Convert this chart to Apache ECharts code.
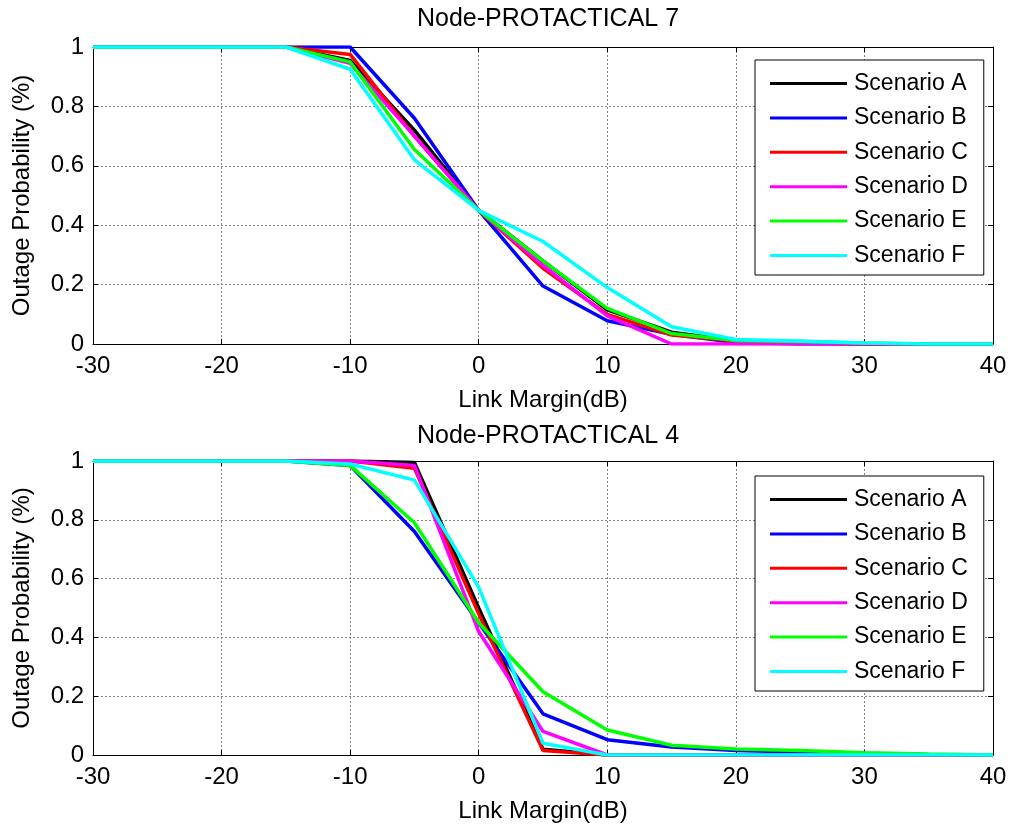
<!DOCTYPE html>
<html>
<head>
<meta charset="utf-8">
<script src="https://cdn.jsdelivr.net/npm/echarts@6/dist/echarts.min.js"></script>
<style>
  html, body { margin: 0; padding: 0; background: #fff; }
  #chart { width: 1010px; height: 825px; }
</style>
</head>
<body>
<div id="chart"></div>
<script>
// Link margin sample points (dB)
const linkMargin = [-30, -25, -20, -15, -10, -5, 0, 5, 10, 15, 20, 25, 30, 35, 40];
const scenarioNames = ['Scenario A', 'Scenario B', 'Scenario C', 'Scenario D', 'Scenario E', 'Scenario F'];
const scenarioColors = ['#000000', '#0000ff', '#ff0000', '#ff00ff', '#00ff00', '#00ffff'];
const xTicks = [-30, -20, -10, 0, 10, 20, 30, 40];
const yTicks = [0, 0.2, 0.4, 0.6, 0.8, 1];

// Node-PROTACTICAL 7 outage probability per scenario
const node7A = [1, 1, 1, 1, 0.955, 0.72, 0.45, 0.28, 0.115, 0.04, 0.01, 0.005, 0, 0, 0];
const node7B = [1, 1, 1, 1, 1, 0.76, 0.45, 0.195, 0.078, 0.033, 0.005, 0, 0, 0, 0];
const node7C = [1, 1, 1, 1, 0.975, 0.70, 0.45, 0.255, 0.10, 0.03, 0.01, 0.005, 0, 0, 0];
const node7D = [1, 1, 1, 1, 0.945, 0.70, 0.45, 0.265, 0.095, 0, 0, 0, 0, 0, 0];
const node7E = [1, 1, 1, 1, 0.95, 0.655, 0.45, 0.28, 0.12, 0.035, 0.012, 0.008, 0.003, 0, 0];
const node7F = [1, 1, 1, 1, 0.925, 0.62, 0.45, 0.345, 0.19, 0.058, 0.015, 0.01, 0.003, 0, 0];

// Node-PROTACTICAL 4 outage probability per scenario
const node4A = [1, 1, 1, 1, 1, 0.995, 0.50, 0.02, 0, 0, 0, 0, 0, 0, 0];
const node4B = [1, 1, 1, 1, 0.985, 0.76, 0.45, 0.14, 0.052, 0.027, 0.015, 0.01, 0.005, 0, 0];
const node4C = [1, 1, 1, 1, 1, 0.975, 0.48, 0.015, 0, 0, 0, 0, 0, 0, 0];
const node4D = [1, 1, 1, 1, 1, 0.985, 0.42, 0.08, 0, 0, 0, 0, 0, 0, 0];
const node4E = [1, 1, 1, 1, 0.985, 0.79, 0.45, 0.215, 0.085, 0.033, 0.02, 0.015, 0.008, 0.003, 0];
const node4F = [1, 1, 1, 1, 0.99, 0.935, 0.57, 0.04, 0, 0, 0, 0, 0, 0, 0];

const node7 = [node7A, node7B, node7C, node7D, node7E, node7F];
const node4 = [node4A, node4B, node4C, node4D, node4E, node4F];

const FONT = '"Liberation Sans", Arial, sans-serif';
const TICK_SIZE = 24;
const LEGEND_SIZE = 23;
const TITLE_SIZE = 25;

const grids = [
  { left: 93, top: 47, width: 900, height: 297 },
  { left: 93, top: 461, width: 900, height: 294 }
];

function mainX(gi) {
  return {
    type: 'value', gridIndex: gi, min: -30, max: 40, interval: 10,
    name: 'Link Margin(dB)', nameLocation: 'middle', nameGap: 44,
    nameTextStyle: { color: '#000', fontFamily: FONT, fontSize: TICK_SIZE },
    axisLine: { onZero: false, lineStyle: { color: '#000', width: 1 } },
    axisTick: { inside: true, length: 5, lineStyle: { color: '#000' } },
    axisLabel: { color: '#000', fontFamily: FONT, fontSize: TICK_SIZE, margin: 10,
      formatter: v => xTicks.includes(v) ? String(v) : '' },
    splitLine: { show: true, lineStyle: { color: '#808080', type: [2, 2], width: 1 } }
  };
}
function boxX(gi) {
  return {
    type: 'value', gridIndex: gi, min: -30, max: 40, interval: 10, position: 'top',
    axisLine: { onZero: false, lineStyle: { color: '#000', width: 1 } },
    axisTick: { inside: true, length: 5, lineStyle: { color: '#000' } },
    axisLabel: { show: false }, splitLine: { show: false }
  };
}
function mainY(gi) {
  return {
    type: 'value', gridIndex: gi, min: 0, max: 1, interval: 0.2,
    name: 'Outage Probability (%)', nameLocation: 'middle', nameGap: 59,
    nameTextStyle: { color: '#000', fontFamily: FONT, fontSize: TICK_SIZE },
    axisLine: { show: true, onZero: false, lineStyle: { color: '#000', width: 1 } },
    axisTick: { show: true, inside: true, length: 5, lineStyle: { color: '#000' } },
    axisLabel: { color: '#000', fontFamily: FONT, fontSize: TICK_SIZE, margin: 9,
      formatter: v => { const t = yTicks.find(y => Math.abs(y - v) < 1e-9); return t === undefined ? '' : String(t); } },
    splitLine: { show: true, lineStyle: { color: '#808080', type: [2, 2], width: 1 } }
  };
}
function boxY(gi) {
  return {
    type: 'value', gridIndex: gi, min: 0, max: 1, interval: 0.2, position: 'right',
    axisLine: { show: true, onZero: false, lineStyle: { color: '#000', width: 1 } },
    axisTick: { show: true, inside: true, length: 5, lineStyle: { color: '#000' } },
    axisLabel: { show: false }, splitLine: { show: false }
  };
}

const series = [];
[node7, node4].forEach((set, gi) => {
  set.forEach((vals, si) => {
    series.push({
      type: 'line', name: scenarioNames[si],
      xAxisIndex: gi * 2, yAxisIndex: gi * 2,
      data: linkMargin.map((x, k) => [x, vals[k]]),
      symbol: 'none', animation: false,
      lineStyle: { color: scenarioColors[si], width: 3.5 },
      itemStyle: { color: scenarioColors[si] },
      z: 2 + si
    });
  });
});

function legendAt(top) {
  return {
    orient: 'vertical', left: 755, top: top,
    data: scenarioNames, icon: 'rect', itemWidth: 77, itemHeight: 3,
    itemGap: 11.4, padding: [12, 16, 8, 15],
    backgroundColor: '#fff', borderColor: '#000', borderWidth: 1,
    textStyle: { color: '#000', fontFamily: FONT, fontSize: LEGEND_SIZE, padding: [0, 0, 0, 2] },
    selectedMode: false
  };
}

const option = {
  backgroundColor: '#fff',
  animation: false,
  title: [
    { text: 'Node-PROTACTICAL 7', left: 543, top: 2, textAlign: 'center',
      textStyle: { color: '#000', fontFamily: FONT, fontSize: TITLE_SIZE, fontWeight: 'normal' } },
    { text: 'Node-PROTACTICAL 4', left: 543, top: 419, textAlign: 'center',
      textStyle: { color: '#000', fontFamily: FONT, fontSize: TITLE_SIZE, fontWeight: 'normal' } }
  ],
  legend: [legendAt(60), legendAt(476)],
  grid: grids,
  xAxis: [mainX(0), boxX(0), mainX(1), boxX(1)],
  yAxis: [mainY(0), boxY(0), mainY(1), boxY(1)],
  series: series
};

const chart = echarts.init(document.getElementById('chart'), null, { renderer: 'canvas' });
chart.setOption(option);
</script>
</body>
</html>
